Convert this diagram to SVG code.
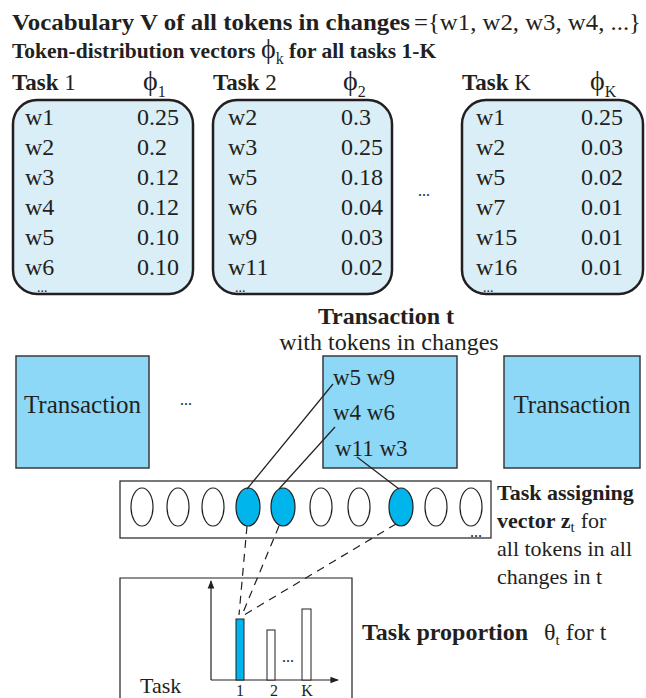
<svg xmlns="http://www.w3.org/2000/svg" width="646" height="698" viewBox="0 0 646 698">
  <style>
    text { font-family: "Liberation Serif", "Times New Roman", serif; fill: #231f20; }
    .b { font-weight: bold; }
    .n { font-weight: normal; }
    .h { font-size: 21.5px; }
    .mid { font-size: 24px; }
    .row { font-size: 24px; }
    .dots { font-size: 16px; }
    .rowdots { font-size: 14px; }
    .phi { font-size: 28px; }
    .sub { font-size: 16px; }
    .side { font-size: 22px; }
    .taskbox { fill: #d9eef6; stroke: #231f20; stroke-width: 2.5; }
    .trans { fill: #8dd8f6; stroke: #3a3a3a; stroke-width: 1.5; }
    .slot { fill: #ffffff; stroke: #231f20; stroke-width: 1.2; }
    .slot.on { fill: #00b5ec; }
    .ln { fill: none; stroke: #231f20; stroke-width: 1.2; }
    .dash { fill: none; stroke: #231f20; stroke-width: 1.2; stroke-dasharray: 8 6; }
  </style>
  <defs>
    <marker id="arr" viewBox="0 0 10 10" refX="9" refY="5" markerWidth="7" markerHeight="7" orient="auto">
      <path d="M0,1 L10,5 L0,9 z" fill="#231f20"/>
    </marker>
  </defs>

  <!-- headings -->
  <g id="vocabulary">
    <text y="30" font-size="23"><tspan x="12" class="b" textLength="398" lengthAdjust="spacingAndGlyphs">Vocabulary V of all tokens in changes</tspan><tspan x="414" textLength="227" lengthAdjust="spacingAndGlyphs">={w1, w2, w3, w4, ...}</tspan></text>
  </g>
  <g id="distribution-title">
    <text x="12" y="58" class="h b">Token-distribution vectors <tspan class="phi n">ϕ</tspan><tspan class="sub n" dy="6">k</tspan><tspan dy="-6"> for all tasks 1-K</tspan></text>
  </g>

  <!-- task 1 -->
  <g id="task-1">
    <text x="12" y="90" font-size="23"><tspan class="b">Task</tspan> 1</text>
    <text x="143" y="90" class="phi">ϕ<tspan class="sub" dy="7">1</tspan></text>
    <rect x="13" y="100" width="180" height="194" rx="24" class="taskbox"/>
    <g class="row">
      <text x="25" y="125">w1</text><text x="137" y="125">0.25</text>
      <text x="25" y="155">w2</text><text x="137" y="155">0.2</text>
      <text x="25" y="185">w3</text><text x="137" y="185">0.12</text>
      <text x="25" y="215">w4</text><text x="137" y="215">0.12</text>
      <text x="25" y="245">w5</text><text x="137" y="245">0.10</text>
      <text x="25" y="275">w6</text><text x="137" y="275">0.10</text>
    </g>
    <text x="37" y="292" class="rowdots">...</text>
  </g>

  <!-- task 2 -->
  <g id="task-2">
    <text x="213" y="90" font-size="23"><tspan class="b">Task</tspan> 2</text>
    <text x="343" y="90" class="phi">ϕ<tspan class="sub" dy="7">2</tspan></text>
    <rect x="213" y="100" width="179" height="194" rx="24" class="taskbox"/>
    <g class="row">
      <text x="228" y="125">w2</text><text x="341" y="125">0.3</text>
      <text x="228" y="155">w3</text><text x="341" y="155">0.25</text>
      <text x="228" y="185">w5</text><text x="341" y="185">0.18</text>
      <text x="228" y="215">w6</text><text x="341" y="215">0.04</text>
      <text x="228" y="245">w9</text><text x="341" y="245">0.03</text>
      <text x="228" y="275">w11</text><text x="341" y="275">0.02</text>
    </g>
    <text x="235" y="292" class="rowdots">...</text>
  </g>

  <text x="418" y="196" class="dots">...</text>

  <!-- task K -->
  <g id="task-k">
    <text x="462" y="90" font-size="23"><tspan class="b">Task</tspan> K</text>
    <text x="590" y="90" class="phi">ϕ<tspan class="sub" dy="7">K</tspan></text>
    <rect x="462" y="100" width="181" height="194" rx="24" class="taskbox"/>
    <g class="row">
      <text x="476" y="125">w1</text><text x="581" y="125">0.25</text>
      <text x="476" y="155">w2</text><text x="581" y="155">0.03</text>
      <text x="476" y="185">w5</text><text x="581" y="185">0.02</text>
      <text x="476" y="215">w7</text><text x="581" y="215">0.01</text>
      <text x="476" y="245">w15</text><text x="581" y="245">0.01</text>
      <text x="476" y="275">w16</text><text x="581" y="275">0.01</text>
    </g>
    <text x="483" y="292" class="rowdots">...</text>
  </g>

  <!-- transactions -->
  <g id="transaction-title">
    <text x="386" y="324" class="mid b" text-anchor="middle">Transaction t</text>
    <text x="389" y="350" class="mid" text-anchor="middle">with tokens in changes</text>
  </g>
  <g id="transaction-left">
    <rect x="16" y="356" width="133" height="112" class="trans"/>
    <text x="82.5" y="413" font-size="25" text-anchor="middle">Transaction</text>
  </g>
  <text x="180" y="405" class="dots">...</text>
  <g id="transaction-t">
    <rect x="323" y="356" width="134" height="112" class="trans"/>
    <text x="333" y="385" font-size="23">w5 w9</text>
    <text x="333" y="420" font-size="23">w4 w6</text>
    <text x="335" y="456" font-size="23">w11 w3</text>
  </g>
  <g id="transaction-right">
    <rect x="504" y="356" width="136" height="112" class="trans"/>
    <text x="572" y="413" font-size="25" text-anchor="middle">Transaction</text>
  </g>

  <!-- task assigning vector -->
  <g id="assign-vector">
    <rect x="120" y="481" width="371" height="57" class="slot"/>
    <ellipse cx="142" cy="507" rx="11" ry="19" class="slot"/>
    <ellipse cx="178" cy="507" rx="11" ry="19" class="slot"/>
    <ellipse cx="213" cy="507" rx="11" ry="19" class="slot"/>
    <ellipse cx="248" cy="507" rx="12" ry="19" class="slot on"/>
    <ellipse cx="283" cy="507" rx="12" ry="19" class="slot on"/>
    <ellipse cx="321" cy="507" rx="11" ry="19" class="slot"/>
    <ellipse cx="359" cy="507" rx="11" ry="19" class="slot"/>
    <ellipse cx="401" cy="507" rx="12" ry="19" class="slot on"/>
    <ellipse cx="436" cy="507" rx="11" ry="19" class="slot"/>
    <ellipse cx="471" cy="507" rx="11" ry="19" class="slot"/>
    <text x="470" y="537" class="dots">...</text>
  </g>
  <g id="assign-label" class="side">
    <text x="497" y="500" class="b">Task assigning</text>
    <text x="497" y="528"><tspan class="b">vector z</tspan><tspan font-size="15" dy="4">t</tspan><tspan dy="-4" dx="6">for</tspan></text>
    <text x="497" y="556">all tokens in all</text>
    <text x="497" y="584">changes in t</text>
  </g>

  <!-- task proportion chart -->
  <g id="proportion-chart">
    <path d="M120,698 V578 H352 V698" class="ln"/>
    <line x1="211" y1="680" x2="211" y2="581" class="ln" marker-end="url(#arr)"/>
    <line x1="211" y1="680" x2="338" y2="680" class="ln" marker-end="url(#arr)"/>
    <rect x="236" y="619" width="8" height="61" fill="#00b5ec" stroke="#231f20" stroke-width="1"/>
    <rect x="267" y="630" width="8" height="50" fill="#ffffff" stroke="#231f20" stroke-width="1"/>
    <rect x="302" y="609" width="9" height="71" fill="#ffffff" stroke="#231f20" stroke-width="1"/>
    <text x="282" y="662" class="dots">...</text>
    <text x="140" y="693" font-size="22">Task</text>
    <text x="240" y="696" font-size="16" text-anchor="middle">1</text>
    <text x="274" y="696" font-size="16" text-anchor="middle">2</text>
    <text x="307" y="696" font-size="16" text-anchor="middle">K</text>
  </g>
  <g id="proportion-label">
    <text x="362" y="640" font-size="24"><tspan class="b">Task proportion</tspan><tspan dx="16">θ</tspan><tspan font-size="15" dy="5">t</tspan><tspan dy="-5" dx="6">for t</tspan></text>
  </g>

  <!-- connectors -->
  <g id="connectors">
    <line x1="333" y1="384" x2="247" y2="489" class="ln"/>
    <line x1="335" y1="427" x2="279" y2="489" class="ln"/>
    <line x1="357" y1="457" x2="399" y2="489" class="ln"/>
    <line x1="247" y1="526" x2="239" y2="615" class="dash"/>
    <line x1="279" y1="526" x2="242" y2="615" class="dash"/>
    <line x1="396" y1="524" x2="244" y2="615" class="dash"/>
  </g>
</svg>
